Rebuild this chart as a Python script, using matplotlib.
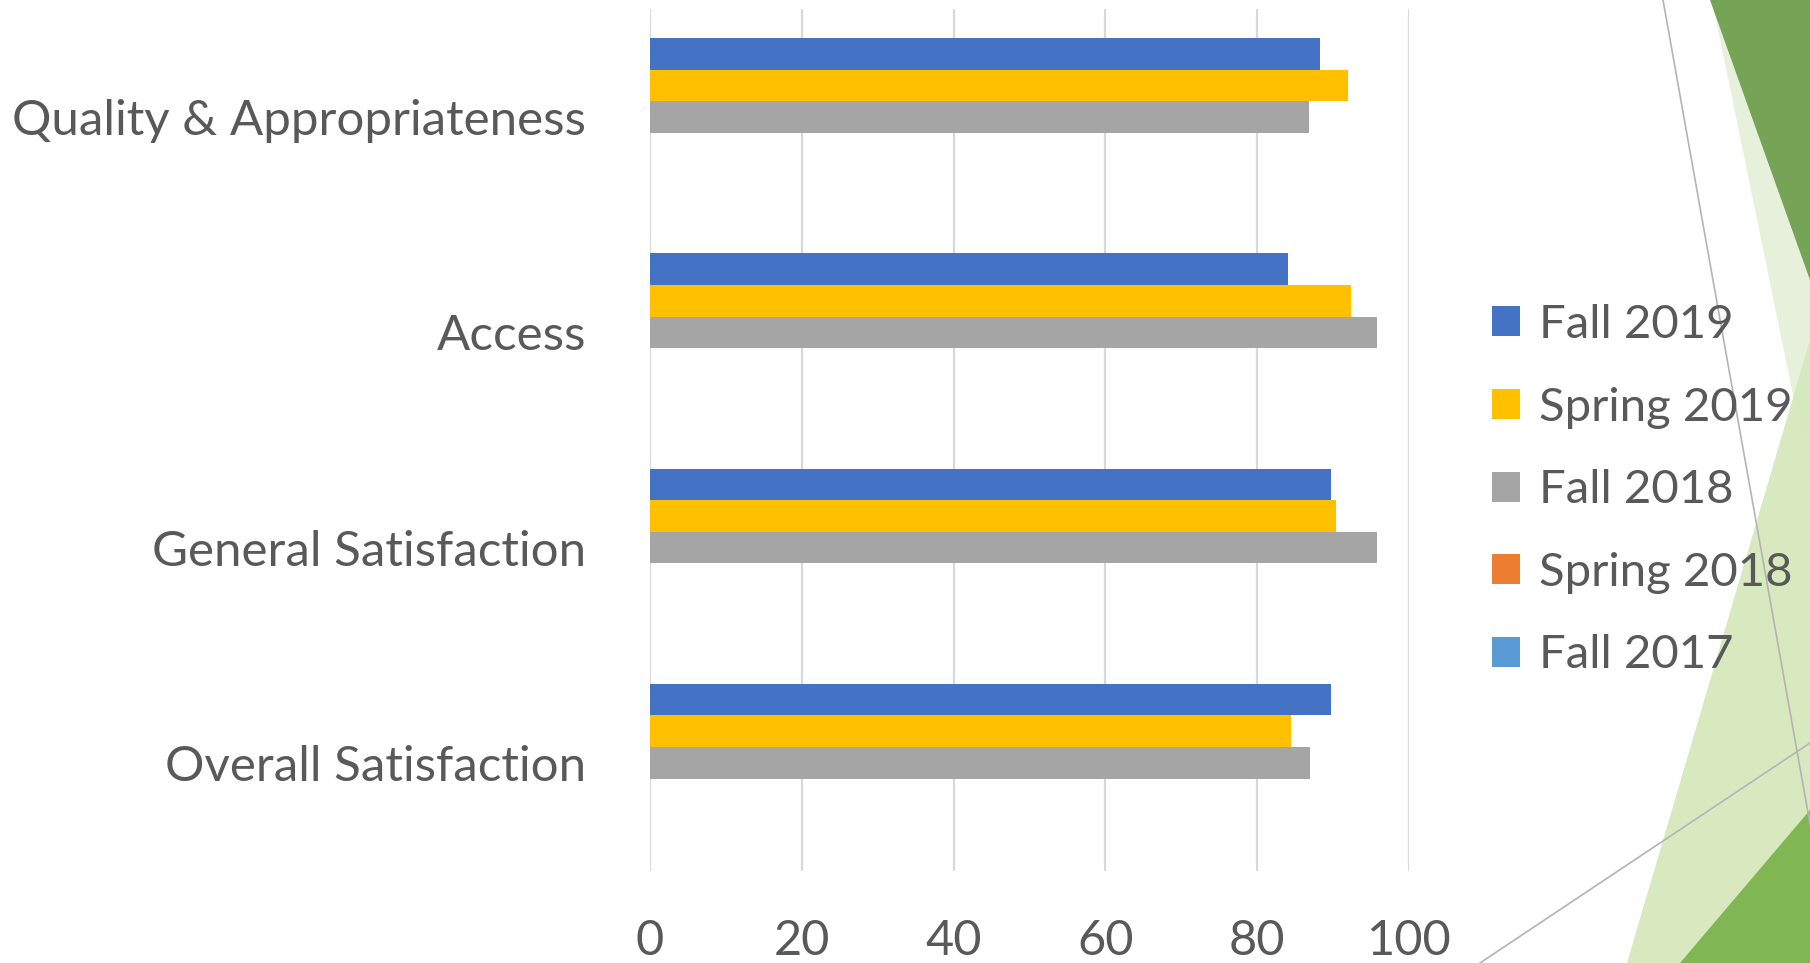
import numpy as np
import matplotlib.pyplot as plt
from matplotlib.patches import Polygon
from matplotlib.lines import Line2D

categories = ['Overall Satisfaction', 'General Satisfaction', 'Access',
              'Quality & Appropriateness']
series = ['Fall 2019', 'Spring 2019', 'Fall 2018', 'Spring 2018', 'Fall 2017']
fall_2019 = [89.7, 89.7, 84.1, 88.3]
spring_2019 = [84.4, 90.4, 92.4, 92.0]
fall_2018 = [87.0, 95.8, 95.8, 86.8]
spring_2018 = [np.nan, np.nan, np.nan, np.nan]
fall_2017 = [np.nan, np.nan, np.nan, np.nan]
x_ticks = [0, 20, 40, 60, 80, 100]

values = [fall_2019, spring_2019, fall_2018, spring_2018, fall_2017]
colors = ['#4472C4', '#FFC000', '#A5A5A5', '#ED7D31', '#5B9BD5']
text_color = '#595959'
font = ['Lato', 'DejaVu Sans']

W, H = 1810, 963
fig = plt.figure(figsize=(W / 100, H / 100), dpi=100)


def fx(px, py):
    return (px / W, 1 - py / H)


# slide background shapes (right edge)
bg_shapes = [
    ([(1712, 0), (1810, 0), (1810, 478)], '#E6F0D8'),
    ([(1710, 0), (1810, 0), (1810, 280)], '#70A050'),
    ([(1810, 340), (1627, 963), (1810, 963)], '#D6E8BC'),
    ([(1810, 810), (1680, 963), (1810, 963)], '#7BB54C'),
]
for pts, c in bg_shapes:
    fig.patches.append(Polygon([fx(*p) for p in pts], closed=True,
                               transform=fig.transFigure, facecolor=c,
                               edgecolor='none', zorder=0, alpha=0.95))
for (a, b) in [((1663, 0), (1812, 835)), ((1480, 963), (1810, 743))]:
    p1, p2 = fx(*a), fx(*b)
    fig.lines.append(Line2D([p1[0], p2[0]], [p1[1], p2[1]],
                            transform=fig.transFigure, color='#B4B4B4',
                            lw=1.2, zorder=1))

ax = fig.add_axes([650 / W, 1 - 870.6 / H, 759 / W, 861.2 / H])
ax.set_facecolor('none')

y = np.arange(len(categories))
slot = 0.147
offsets = [2, 1, 0, -1, -2]
for vals, name, c, off in zip(values, series, colors, offsets):
    ax.barh(y + off * slot, vals, height=slot, color=c, label=name, zorder=3)

ax.set_xlim(0, 100)
ax.set_ylim(-0.5, len(categories) - 0.5)
ax.set_xticks(x_ticks)
ax.set_xticklabels([str(t) for t in x_ticks], family=font,
                   fontsize=35, color=text_color)
ax.set_yticks(y)
ax.set_yticklabels(categories, family=font, fontsize=35.5, color=text_color)
ax.tick_params(axis='x', length=0, pad=35)
ax.tick_params(axis='y', length=0, pad=46)
ax.grid(axis='x', color='#D9D9D9', lw=1.6, zorder=0)
ax.set_axisbelow(True)
for s in ax.spines.values():
    s.set_visible(False)

fig.legend(loc='upper left', bbox_to_anchor=(1492 / W, 1 - 304 / H),
           frameon=False, prop={'family': font, 'size': 34},
           labelcolor=text_color, handlelength=0.6, handleheight=0.6,
           handletextpad=0.4, labelspacing=0.86, borderpad=0, borderaxespad=0)

fig.savefig('out.png', dpi=100)
